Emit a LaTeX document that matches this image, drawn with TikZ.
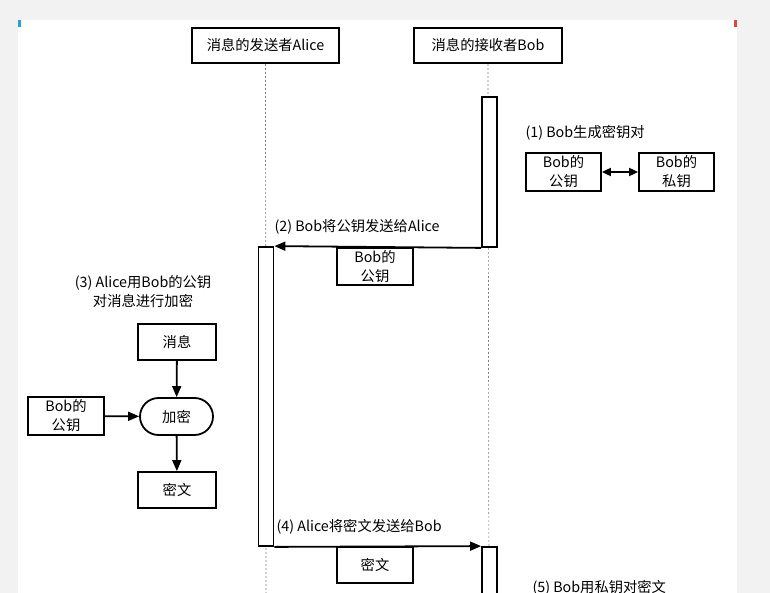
\documentclass[tikz,border=0pt]{standalone}
\usepackage{fontspec}
\setmainfont{Noto Sans CJK SC}
\usetikzlibrary{arrows.meta, positioning, shapes.misc}
\definecolor{pagebg}{HTML}{F2F2F3}
\definecolor{markblue}{HTML}{2B9FDC}
\definecolor{markred}{HTML}{E04A3C}

\begin{document}
\begin{tikzpicture}[x=1pt, y=-1pt, font=\fontsize{14.3}{19}\selectfont, align=center,
    box/.style={draw, line width=1.8pt, inner sep=0pt},
    bar/.style={draw, fill=white, line width=1.8pt, minimum width=15pt, inner sep=0pt},
    life/.style={gray, line width=0.7pt, dash pattern=on 2pt off 2pt},
    msg/.style={line width=1.8pt, -{Triangle[length=11pt, width=9pt]}}]
    % page
    \fill[pagebg] (0,0) rectangle (770,593);
    \fill[white] (18,20) rectangle (737,593);
    \fill[markblue] (18,20) rectangle (21,27);
    \fill[markred] (734,20) rectangle (737,27);
    \useasboundingbox (0,0) rectangle (770,593);
    \clip (0,0) rectangle (770,593);

    % lifelines
    \node[box, minimum width=147pt, minimum height=35pt] (alice) at (265.5,45.5) {消息的发送者Alice};
    \node[box, minimum width=148pt, minimum height=35pt] (bob) at (488,45.5) {消息的接收者Bob};
    \coordinate (aliceend) at (266,600);
    \coordinate (bobend) at (489,600);
    \draw[life] (alice.south) -- (aliceend);
    \draw[life] (bob.south) -- (bobend);

    % activations
    \node[bar, minimum height=150pt] (bobact) at (489.5,172) {};
    \node[bar, minimum height=299pt] (aliceact) at (266,396.5) {};
    \node[bar, minimum height=60pt] (bobact2) at (489.5,577) {};

    % (1)
    \node[anchor=west] (step1) at (522,133) {(1) Bob生成密钥对};
    \node[box, minimum width=75pt, minimum height=38pt] (bobpub) at (563.5,172) {Bob的\\公钥};
    \node[box, minimum width=75pt, minimum height=38pt] (bobpriv) at (676.5,172) {Bob的\\私钥};
    \draw[line width=1.8pt, {Triangle[length=9pt, width=8pt]}-{Triangle[length=9pt, width=8pt]}] (bobpub) -- (bobpriv);

    % (2)
    \node[anchor=west] (step2) at (271,227) {(2) Bob将公钥发送给Alice};
    \draw[msg] (bobact.south west) -- (aliceact.north east);
    \node[box, minimum width=76pt, minimum height=37pt] (pubmsg) at (375,266.5) {Bob的\\公钥};

    % (3)
    \node (step3) at (143,291.5) {(3) Alice用Bob的公钥\\对消息进行加密};
    \node[box, minimum width=78pt, minimum height=36pt] (plain) at (177,342) {消息};
    \node[box, rounded rectangle, minimum width=73pt, minimum height=37pt] (enc) at (176.5,416.5) {加密};
    \node[box, minimum width=78pt, minimum height=36pt] (cipher) at (177,490) {密文};
    \node[box, minimum width=76pt, minimum height=38pt] (alicekey) at (66,416) {Bob的\\公钥};
    \draw[msg] (plain) -- (enc);
    \draw[msg] (alicekey) -- (enc);
    \draw[msg] (enc) -- (cipher);

    % (4)
    \node[anchor=west] (step4) at (273,527) {(4) Alice将密文发送给Bob};
    \draw[msg] (aliceact.south east) -- (bobact2.north west);
    \node[box, minimum width=76pt, minimum height=36pt] (ciphermsg) at (375,565) {密文};

    % (5)
    \node[anchor=west] (step5) at (529,588) {(5) Bob用私钥对密文};
\end{tikzpicture}
\end{document}
